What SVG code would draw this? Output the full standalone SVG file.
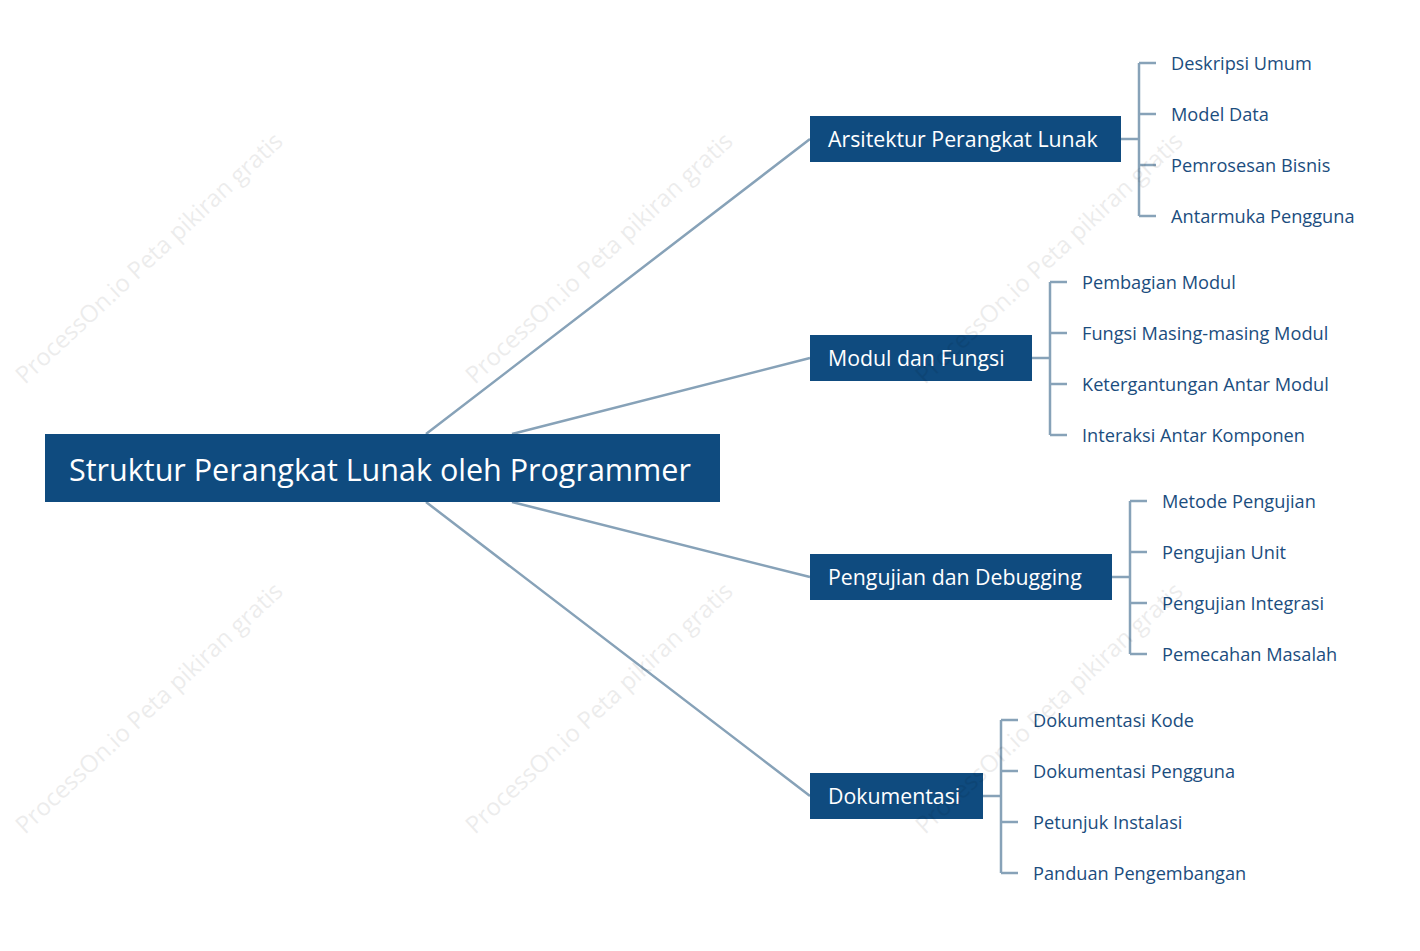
<svg xmlns="http://www.w3.org/2000/svg" width="1420" height="951" viewBox="0 0 1420 951">
<style>
.box{fill:#0f4b7f}
.rt{font-family:"Segoe UI","Open Sans","Noto Sans",sans-serif;fill:#fff;font-size:30.5px}
.bt{font-family:"Segoe UI","Open Sans","Noto Sans",sans-serif;fill:#fff;font-size:21.3px}
.lt{font-family:"Segoe UI","Open Sans","Noto Sans",sans-serif;fill:#1b4d7e;font-size:18.2px}
.c{stroke:#87a2b8;stroke-width:2.5;fill:none}
.wm{font-family:"Open Sans","Noto Sans",sans-serif;fill:#000;opacity:0.07;font-size:24px}
</style>
<rect width="1420" height="951" fill="#fff"/>
<g id="connectors">
<path class="c" d="M426 434L810 139M512 434L810 358M512 502L810 577M426 502L810 796"/>
<path class="c" d="M1121 139H1139M1139 63V216M1139 63H1156M1139 114H1156M1139 165H1156M1139 216H1156"/>
<path class="c" d="M1032 358H1050M1050 282V435M1050 282H1067M1050 333H1067M1050 384H1067M1050 435H1067"/>
<path class="c" d="M1112 577H1130M1130 501V654M1130 501H1147M1130 552H1147M1130 603H1147M1130 654H1147"/>
<path class="c" d="M983 796H1001M1001 720V873M1001 720H1018M1001 771H1018M1001 822H1018M1001 873H1018"/>
</g>
<g id="root"><rect class="box" x="45" y="434" width="675" height="68"/><text class="rt" x="69" y="481">Struktur Perangkat Lunak oleh Programmer</text></g>
<g id="b1"><rect class="box" x="810" y="116" width="311" height="46"/><text class="bt" x="828" y="147">Arsitektur Perangkat Lunak</text></g>
<g id="b2"><rect class="box" x="810" y="335" width="222" height="46"/><text class="bt" x="828" y="366">Modul dan Fungsi</text></g>
<g id="b3"><rect class="box" x="810" y="554" width="302" height="46"/><text class="bt" x="828" y="585">Pengujian dan Debugging</text></g>
<g id="b4"><rect class="box" x="810" y="773" width="173" height="46"/><text class="bt" x="828" y="804">Dokumentasi</text></g>
<g id="leaves1"><text class="lt" x="1171" y="70">Deskripsi Umum</text><text class="lt" x="1171" y="121">Model Data</text><text class="lt" x="1171" y="172">Pemrosesan Bisnis</text><text class="lt" x="1171" y="223">Antarmuka Pengguna</text></g>
<g id="leaves2"><text class="lt" x="1082" y="289">Pembagian Modul</text><text class="lt" x="1082" y="340">Fungsi Masing-masing Modul</text><text class="lt" x="1082" y="391">Ketergantungan Antar Modul</text><text class="lt" x="1082" y="442">Interaksi Antar Komponen</text></g>
<g id="leaves3"><text class="lt" x="1162" y="508">Metode Pengujian</text><text class="lt" x="1162" y="559">Pengujian Unit</text><text class="lt" x="1162" y="610">Pengujian Integrasi</text><text class="lt" x="1162" y="661">Pemecahan Masalah</text></g>
<g id="leaves4"><text class="lt" x="1033" y="727">Dokumentasi Kode</text><text class="lt" x="1033" y="778">Dokumentasi Pengguna</text><text class="lt" x="1033" y="829">Petunjuk Instalasi</text><text class="lt" x="1033" y="880">Panduan Pengembangan</text></g>
<g id="watermarks">
<text class="wm" transform="translate(25,385) rotate(-43)">ProcessOn.io Peta pikiran gratis</text>
<text class="wm" transform="translate(475,385) rotate(-43)">ProcessOn.io Peta pikiran gratis</text>
<text class="wm" transform="translate(925,385) rotate(-43)">ProcessOn.io Peta pikiran gratis</text>
<text class="wm" transform="translate(25,835) rotate(-43)">ProcessOn.io Peta pikiran gratis</text>
<text class="wm" transform="translate(475,835) rotate(-43)">ProcessOn.io Peta pikiran gratis</text>
<text class="wm" transform="translate(925,835) rotate(-43)">ProcessOn.io Peta pikiran gratis</text>
</g>
</svg>
